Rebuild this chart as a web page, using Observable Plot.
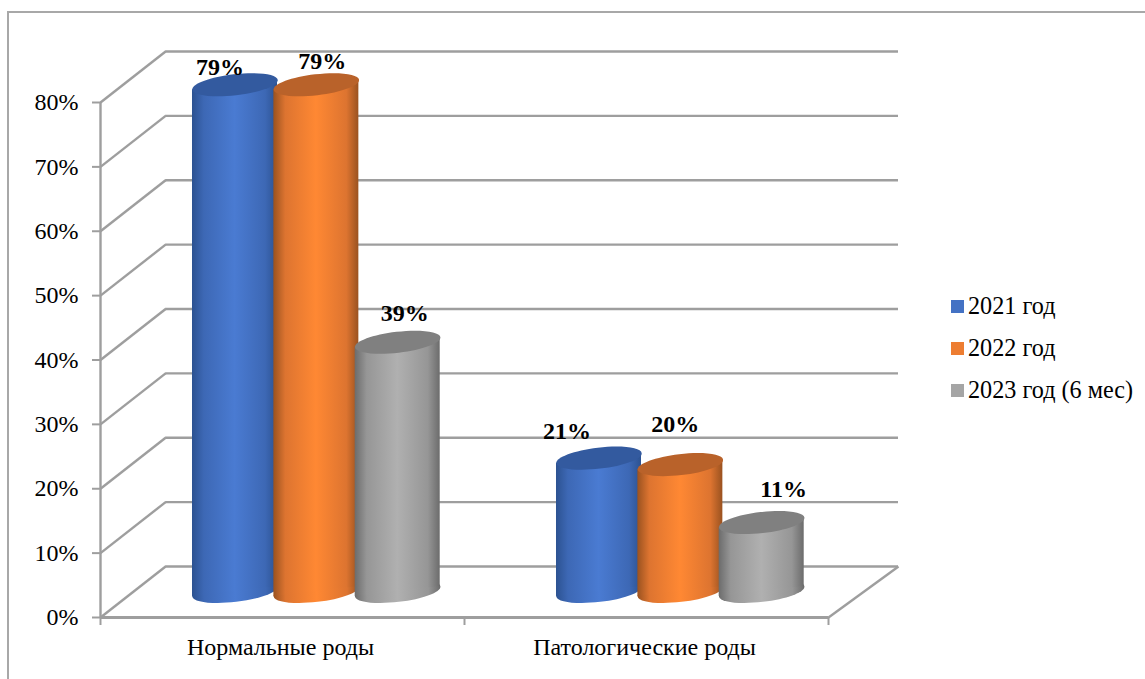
<!DOCTYPE html>
<html lang="ru">
<head>
<meta charset="utf-8">
<script src="https://cdn.jsdelivr.net/npm/d3@7"></script>
<script src="https://cdn.jsdelivr.net/npm/@observablehq/plot@0.6"></script>
<style>
  html, body { margin: 0; padding: 0; background: #fff; overflow: hidden; }
  #frame { position: absolute; left: 7px; top: 11px; width: 1140px; height: 670px;
           border-left: 2px solid #a8a8a8; border-top: 2px solid #a8a8a8; }
  #chart { position: absolute; left: 0; top: 0; }
  #chart svg { display: block; overflow: visible; background: transparent; }
  #legend { position: absolute; left: 951px; top: 289px; font: 24.2px "Liberation Serif", serif; color: #000; }
  #legend div { position: relative; height: 42px; line-height: 33px; padding-left: 17px; white-space: nowrap; }
  #legend i { position: absolute; left: 0; top: 11px; width: 13px; height: 13px; }
</style>
</head>
<body>
<div id="frame"></div>
<div id="chart"></div>
<div id="legend"></div>
<script>
const categories = ["Нормальные роды", "Патологические роды"];
const seriesNames = ["2021 год", "2022 год", "2023 год (6 мес)"];
const values2021 = [79, 21];
const values2022 = [79, 20];
const values2023 = [39, 11];
const seriesValues = [values2021, values2022, values2023];
const yTicks = [0, 10, 20, 30, 40, 50, 60, 70, 80];

const swatch = ["#4472c4", "#ed7d31", "#a5a5a5"];
const capColor = ["#335a9f", "#b9622a", "#808080"];
const edgeColor = ["#2c5291", "#9a5220", "#6c6c6c"];
const shoulderColor = ["#3d68b5", "#dd7430", "#969696"];
const midColor = ["#4a7bd2", "#ff8833", "#b0b0b0"];

// layout of the pseudo-3D box, in scale units
const depthX = 70 / 364, depthY = 51 / 6.4375;
const barOffset = 0.593, barStep = 0.2235, barHalf = 42.5 / 364, tilt = 5 / 6.4375;
const baseLift = 4.05, topLift = 3.75;
// hand-placed data labels from the reference, in pixels from the cap
const labelDx = [[-15, -32], [6, -5], [7, 22]];
const labelDy = [[-17, -27], [-23, -40], [-29, -33]];

const rows = seriesValues.flatMap((vals, s) => vals.map((v, c) => ({
  s, c, v, id: `${s}-${c}`, cx: c + barOffset + (s - 1) * barStep
})));

// tilted ellipse used for the cylinder ends
const ellipse = (() => {
  const a = 43, b = 10.5, th = -Math.atan(5 / 43), k = 0.5522847;
  const P = (x, y) => [x * Math.cos(th) - y * Math.sin(th), x * Math.sin(th) + y * Math.cos(th)];
  return { draw(ctx) {
    ctx.moveTo(...P(a, 0));
    ctx.bezierCurveTo(...P(a, k * b), ...P(k * a, b), ...P(0, b));
    ctx.bezierCurveTo(...P(-k * a, b), ...P(-a, k * b), ...P(-a, 0));
    ctx.bezierCurveTo(...P(-a, -k * b), ...P(-k * a, -b), ...P(0, -b));
    ctx.bezierCurveTo(...P(k * a, -b), ...P(a, -k * b), ...P(a, 0));
    ctx.closePath();
  }};
})();

const gridColor = "#9e9e9e", gridW = 2.4;

const cylinderMarks = seriesNames.flatMap((_, s) => {
  const r = rows.filter(d => d.s === s);
  const sides = r.flatMap(d => [
    { id: d.id, x: d.cx - barHalf, y1: baseLift - tilt, y2: d.v + topLift - tilt },
    { id: d.id, x: d.cx + barHalf, y1: baseLift + tilt, y2: d.v + topLift + tilt }
  ]);
  const fill = `url(#body${s})`;
  return [
    Plot.dot(r, { x: "cx", y: () => baseLift, symbol: ellipse, fill, stroke: "none" }),
    Plot.areaY(sides, { x: "x", y1: "y1", y2: "y2", z: "id", fill, fillOpacity: 1 }),
    Plot.dot(r, { x: "cx", y: d => d.v + topLift, symbol: ellipse, fill: capColor[s], stroke: "none" })
  ];
});

const labelMarks = rows.map(d => Plot.text([d], {
  x: "cx", y: e => e.v + topLift, text: e => e.v + "%",
  dx: labelDx[d.s][d.c], dy: labelDy[d.s][d.c],
  fontSize: 24, fontWeight: "bold", fill: "#000"
}));

const defs = () => {
  const ns = "http://www.w3.org/2000/svg";
  const g = document.createElementNS(ns, "defs");
  seriesNames.forEach((_, s) => {
    const lg = document.createElementNS(ns, "linearGradient");
    lg.setAttribute("id", `body${s}`);
    lg.setAttribute("x1", "0"); lg.setAttribute("x2", "1");
    lg.setAttribute("y1", "0"); lg.setAttribute("y2", "0");
    [[0, edgeColor[s]], [0.14, shoulderColor[s]], [0.5, midColor[s]], [0.86, shoulderColor[s]], [1, edgeColor[s]]].forEach(([o, c]) => {
      const st = document.createElementNS(ns, "stop");
      st.setAttribute("offset", o); st.setAttribute("stop-color", c);
      lg.appendChild(st);
    });
    g.appendChild(lg);
  });
  return g;
};

const plot = Plot.plot({
  width: 1145, height: 679,
  marginLeft: 100, marginRight: 317, marginTop: 102, marginBottom: 62,
  style: { fontFamily: "'Liberation Serif', serif", background: "transparent", color: "#000" },
  x: { domain: [0, 2] },
  y: { domain: [0, 80] },
  marks: [
    defs,
    // back wall
    Plot.ruleY(yTicks, { y: d => d + depthY, x1: depthX * 0.93, x2: 2 + depthX, stroke: gridColor, strokeWidth: gridW }),
    // side wall
    Plot.link(yTicks, { x1: 0, y1: d => d, x2: depthX * 0.93, y2: d => d + depthY, stroke: gridColor, strokeWidth: gridW }),
    // floor front and right edges
    Plot.ruleY([0], { x1: 0, x2: 2, stroke: gridColor, strokeWidth: gridW + 0.6 }),
    Plot.link([0], { x1: 2, y1: 0, x2: 2 + depthX, y2: depthY, stroke: gridColor, strokeWidth: gridW }),
    Plot.ruleX([0], { y1: 0, y2: 80, stroke: gridColor, strokeWidth: gridW }),
    Plot.axisY({
      ticks: yTicks, tickFormat: d => d + "%", label: null, anchor: "left",
      tickSize: 8, tickPadding: 14, stroke: gridColor, strokeWidth: 2, fontSize: 24, fill: "#000", textStroke: "none"
    }),
    Plot.axisX({ ticks: [0, 1, 2], tickFormat: () => "", label: null, anchor: "bottom", tickSize: 8, stroke: gridColor, strokeWidth: 2 }),
    Plot.axisX({
      ticks: [0.5, 1.5], tickFormat: d => categories[Math.floor(d)], label: null, anchor: "bottom",
      tickSize: 0, tickPadding: 20, dx: -2, fontSize: 24, fill: "#000"
    }),
    ...cylinderMarks,
    ...labelMarks
  ]
});
document.getElementById("chart").appendChild(plot);

const legend = document.getElementById("legend");
seriesNames.forEach((name, s) => {
  const row = document.createElement("div");
  const sw = document.createElement("i");
  sw.style.background = swatch[s];
  row.appendChild(sw);
  row.appendChild(document.createTextNode(name));
  legend.appendChild(row);
});
</script>
</body>
</html>
